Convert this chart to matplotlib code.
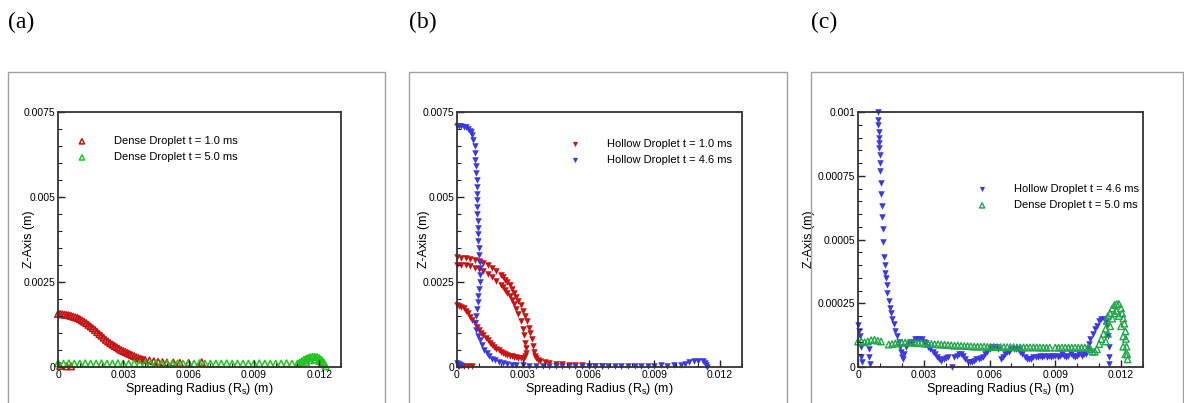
import matplotlib
matplotlib.use("Agg")
import matplotlib.pyplot as plt
from matplotlib.patches import Rectangle
from matplotlib.ticker import MultipleLocator, FuncFormatter

plt.rcParams["font.family"] = ["Liberation Sans", "DejaVu Sans"]

RED = "#c41414"
GREEN_A = "#22c422"
BLUE = "#3a3ae0"
GREEN_C = "#22a64a"

# ---- panel (a): dense droplet ----
a_red_x = [0, .0001, .0002, .0003, .0004, .0005, .0006, .0007, .0008, .0009,
           .001, .0011, .0012, .0013, .0014, .0015, .0016, .0017, .0018, .0019,
           .002, .0021, .0022, .0023, .0024, .0025, .0026, .0027, .0028, .0029,
           .003, .0031, .0032, .0033, .0034, .0035, .0036, .0037, .0038, .0039,
           .004, .0042, .0044, .0046, .0048, .005, .0053, .0056, .006, .0066,
           .0001, .0004, .0006]
a_red_y = [.00156, .00156, .00155, .00154, .00153, .00152, .0015, .00148, .00146, .00144,
           .00141, .00137, .00133, .00129, .00124, .00119, .00114, .00109, .00103, .00097,
           .00092, .00086, .0008, .00075, .0007, .00066, .00062, .00058, .00054, .0005,
           .00047, .00044, .00041, .00038, .00035, .00032, .00029, .00026, .00024, .00022,
           .00021, .00019, .00017, .00015, .00014, .00013, .00013, .00012, .00012, .00014,
           .00003, .00002, .00002]
a_green_x = [0, .00025, .0005, .00075, .001, .00125, .0015, .00175, .002, .00225,
             .0025, .00275, .003, .00325, .0035, .00375, .004, .00425, .0045, .00475,
             .005, .00525, .0055, .00575, .006, .00625, .0065, .00675, .007, .00725,
             .0075, .00775, .008, .00825, .0085, .00875, .009, .00925, .0095, .00975,
             .01, .01025, .0105, .01075, .011,
             .0111, .0112, .0113, .0114, .0115, .0116, .0117, .0118, .0119, .012,
             .0121, .0122, .01225, .0123,
             .0114, .0116, .0118, .012, .0121]
a_green_y = [.00011, .0001, .00011, .0001, .0001, .00011, .0001, .0001, .00011, .0001,
             .0001, .00011, .0001, .0001, .00011, .0001, .0001, .0001, .00011, .0001,
             .0001, .0001, .00011, .0001, .0001, .0001, .00011, .0001, .0001, .0001,
             .0001, .00011, .0001, .0001, .0001, .0001, .0001, .00011, .0001, .0001,
             .0001, .0001, .00011, .0001, .0001,
             .00013, .00017, .00021, .00024, .00027, .00029, .0003, .0003, .00029, .00026,
             .00021, .00014, .00008, .00002,
             .00015, .0002, .00022, .00018, .0001]

# ---- panel (b): hollow droplet ----
b_red_outer_x = [0, .0002, .0004, .0006, .0008, .001, .0012, .0014, .0016, .0018,
                 .002, .0021, .0022, .0023, .0024, .0025, .0026, .0027, .0028, .0029,
                 .003, .0031, .0032, .0033, .00335, .0034, .00345, .0035, .00355, .0036,
                 .0037, .0038, .004, .0042, .0045, .0048, .0051, .0054, .0057, .006,
                 .0063, .0066]
b_red_outer_y = [.00323, .00322, .00321, .00318, .00315, .00311, .00306, .003, .00292, .00282,
                 .00271, .00264, .00257, .00249, .0024, .0023, .00219, .00207, .00195, .00181,
                 .00166, .00151, .00134, .00115, .00099, .00082, .00062, .00045, .00033, .00026,
                 .00021, .00018, .00015, .00012, .00009, .00008, .00006, .00005, .00005, .00004,
                 .00003, .00003]
b_red_inner_x = [0, .0002, .0004, .0006, .0008, .001, .0012, .0014, .0016, .0018,
                 .002, .0021, .0022, .0023, .0024, .0025, .0026, .0027, .0028, .0029,
                 .003, .00305, .0031, .00313, .00315, .00312, .00305]
b_red_inner_y = [.003, .003, .00299, .00296, .00292, .00287, .00281, .00274, .00265, .00254,
                 .00242, .00235, .00227, .00218, .00208, .00197, .00185, .00171, .00155, .00135,
                 .00111, .00095, .00072, .00055, .0004, .00031, .00026]
b_red_lower_x = [0, .0001, .0002, .0003, .0004, .0005, .0006, .0007, .0008, .0009,
                 .001, .0011, .0012, .0013, .0014, .0015, .0016, .0017, .0018, .0019,
                 .002, .0021, .0022, .0023, .0024, .0025, .0026, .0027, .0028, .0029,
                 .003, .0001, .0003, .0005, .0007]
b_red_lower_y = [.00182, .0018, .00177, .00173, .00166, .00158, .00148, .00138, .00128, .00119,
                 .0011, .00101, .00093, .00086, .00078, .00071, .00065, .00059, .00054, .00049,
                 .00045, .00041, .00038, .00035, .00033, .00031, .0003, .00028, .00027, .00026,
                 .00026, .00003, .00002, .00003, .00002]
b_blue_x = [0, .0001, .0002, .0003, .0004, .0005, .0006, .00065, .0007, .00075,
            .0008, .00082, .00084, .00086, .00088, .00089, .0009, .0009, .00091, .00092,
            .00093, .00094, .00095, .00096, .00098, .001, .00102, .00104, .00105, .00105,
            .00103, .001, .00097, .00094, .0009, .00086, .00084, .00088, .00095, .00105,
            .00115, .00125, .00135, .00145, .0016, .00175, .0019, .0021, .0023, .0025,
            .0027, .003, .0033, .0036, .0039, .0042, .0045, .0048, .0051, .0054,
            .0057, .006, .0063, .0066, .0069, .0072, .0075, .0078, .0081, .0084,
            .0087, .009, .0093, .0096, .0099, .0102, .0104, .0106, .0108, .011,
            .0112, .0113, .01135, .0114,
            0, .0001, .0002, .00005]
b_blue_y = [.0071, .0071, .00709, .00707, .00705, .00701, .00695, .0069, .00682, .00668,
            .0065, .0063, .0061, .0059, .0057, .0055, .0053, .0051, .0049, .0047,
            .0045, .0043, .0041, .0039, .0037, .0035, .0033, .0031, .0029, .0027,
            .0025, .0023, .0021, .0019, .0017, .0015, .0013, .0011, .0009, .0008,
            .00065, .0005, .0004, .00032, .00025, .0002, .00016, .00012, .00009, .00007,
            .00006, .00005, .00004, .00003, .00004, .00003, .00004, .00004, .00003, .00004,
            .00003, .00004, .00004, .00003, .00004, .00004, .00003, .00004, .00004, .00003,
            .00004, .00004, .00005, .00004, .00005, .00006, .00009, .00014, .00017, .00019,
            .00018, .00012, .00005, .00001,
            .00012, .00008, .00005, .00002]

# ---- panel (c): zoomed comparison ----
c_blue_x = [.0009, .00092, .00093, .00094, .00095, .00096, .00097, .00099, .001, .00102,
            .00104, .00105, .00108, .00111, .00114, .00116, .00119, .00121, .00125, .00128,
            .00131, .00134, .0014, .00147, .00152, .00157, .00162, .0017, .00177, .00185,
            .00192, .00197, .002, .00205, .0021, .0022, .0023, .0024, .0025, .0026,
            .0027, .0028, .0029, .003, .0031, .0032, .0033, .0034, .0035, .0036,
            .0037, .0038, .0039, .004, .0041, .0043, .0044, .0045, .0046, .0047,
            .0048, .0049, .005, .0051, .0052, .0053, .0054, .0055, .0056, .0057,
            .0058, .0059, .006, .0061, .0062, .0063, .0064, .0065, .0066, .0067,
            .0068, .0069, .007, .0071, .0072, .0073, .0074, .0075, .0076, .0077,
            .0078, .0079, .008, .0081, .0082, .0083, .0084, .0085, .0086, .0087,
            .0088, .0089, .009, .0091, .0092, .0093, .0094, .0095, .0096, .0097,
            .0098, .0099, .01, .0101, .0102, .0103, .0104, .0105, .01055, .0106,
            .0107, .0108, .0109, .011, .0111, .0112, .0113, .01135, .0114, .01143,
            .01145, .01147,
            .00002, .00005, .0001, .00013, .00015, .00017, .0005, .00052, .00055]
c_blue_y = [.001, .00097, .00095, .00092, .0009, .00088, .00086, .00083, .0008, .00077,
            .00072, .00068, .00063, .00059, .00054, .00049, .00043, .0004, .00037, .00035,
            .00032, .00029, .00026, .00023, .00021, .00019, .00017, .00014, .00012, .0001,
            .00008, .00006, .00004, .00003, .00005, .00008, .00009, .0001, .0001, .00011,
            .00011, .00011, .00011, .0001, .000095, .00008, .00007, .00006, .00005, .00004,
            .00003, .000025, .00003, .000035, .000038, 0, .00004, .000045, .00005, .00005,
            .000045, .00003, .00002, .00002, .00002, .000025, .00003, .00003, .000035, .00004,
            .00005, .00006, .00007, .00008, .00008, .00008, .00007, .00003, .00004, .00005,
            .00006, .00006, .00007, .00007, .00007, .00007, .00006, .00005, .00004, .00003,
            .00003, .00003, .00004, .00004, .00004, .000045, .00004, .000045, .00004, .000045,
            .00004, .000045, .000045, .00004, .000045, .00005, .000045, .00004, .000045, .00005,
            .000045, .00004, .000045, .00005, .000045, .00005, .00005, .00007, .00009, .00011,
            .00013, .00015, .00016, .00018, .00019, .00019, .00018, .00016, .00012, .00008,
            .00004, .00001,
            .000165, .00014, .00012, .00008, .00004, .00002, .00007, .00004, .00001]
c_green_x = [0, .00015, .0003, .00045, .0006, .00075, .0009, .00105,
             .0014, .00155, .0017, .00185, .002, .00215, .0023, .00245, .0026, .00275,
             .0029, .00305, .0032, .00335, .0035, .00365, .0038, .00395, .0041, .00425,
             .0044, .00455, .0047, .00485, .005, .00515, .0053, .00545, .0056, .00575,
             .0059, .00605, .0062, .00635, .0065, .00665, .0068, .00695, .0071, .00725,
             .0074, .00755, .0077, .00785, .008, .00815, .0083, .00845, .0086, .00875,
             .009, .00915, .0093, .00945, .0096, .00975, .0099, .01005, .0102, .01035,
             .0105, .0106, .0107, .0108, .0109, .011, .0111, .0112, .0113, .01135,
             .0114, .0115, .0116, .0117, .0118, .0119, .012, .01205, .0121, .01215,
             .0122, .01222, .01225, .01228, .0123,
             .0113, .0114, .0115, .0116, .0117, .0118, .0119, .012, .0121, .0121, .0122]
c_green_y = [.0001, .0001, .000097, .0001, .000105, .000107, .000103, .0001,
             .000088, .00009, .000092, .000094, .000095, .000096, .000096, .000096, .000095, .000094,
             .000093, .000092, .00009, .00009, .000089, .000089, .000088, .000087, .000086, .000085,
             .000084, .000084, .000083, .000082, .000082, .000081, .00008, .00008, .00008, .00008,
             .000079, .000079, .000079, .000078, .000078, .000078, .000078, .000078, .000078, .000077,
             .000077, .000077, .000077, .000077, .000077, .000077, .000076, .000076, .000076, .000076,
             .000076, .000076, .000076, .000076, .000076, .000076, .000076, .000076, .000076, .000076,
             .000076, .00007, .00006, .00006, .00007, .00009, .00011, .00013, .00015, .00018,
             .0002, .00021, .00023, .000243, .000247, .000247, .00023, .00021, .00019, .00017,
             .00014, .00011, .00008, .00005, .00003,
             .0001, .00013, .00016, .00019, .00021, .00022, .0002, .00016, .00012, .00008, .00005]

W, H = 1184, 403


def style_axes(ax, ymax, ymajor, yminor, ylabel_x):
    ax.set_xlim(0, 0.013)
    ax.set_ylim(0, ymax)
    ax.xaxis.set_major_locator(MultipleLocator(0.003))
    ax.xaxis.set_minor_locator(MultipleLocator(0.001))
    ax.yaxis.set_major_locator(MultipleLocator(ymajor))
    ax.yaxis.set_minor_locator(MultipleLocator(yminor))
    fmt = FuncFormatter(lambda v, p: "0" if abs(v) < 1e-12 else f"{v:g}")
    ax.xaxis.set_major_formatter(fmt)
    ax.yaxis.set_major_formatter(fmt)
    ax.tick_params(which="both", direction="in", labelsize=7.5, pad=2, color="#222")
    ax.tick_params(which="major", length=5, width=1)
    ax.tick_params(which="minor", length=3, width=0.8)
    for s in ax.spines.values():
        s.set_linewidth(1.3)
        s.set_color("#333333")
    ax.set_xlabel("Spreading Radius (R$_\\mathregular{s}$) (m)", fontsize=9, labelpad=1)
    ax.set_ylabel("Z-Axis (m)", fontsize=9)
    ax.yaxis.set_label_coords(ylabel_x, 0.5)


fig = plt.figure(figsize=(W / 100, H / 100), dpi=100)

# outer gray frames and panel letters
for left, right, tag in [(8, 385, "(a)"), (409, 787, "(b)"), (811, 1183, "(c)")]:
    fig.patches.append(Rectangle((left / W, -0.1), (right - left) / W, 0.1 + (H - 72) / H,
                                 transform=fig.transFigure, fill=False,
                                 edgecolor="#a0a0a0", linewidth=1))
    fig.text(left / W, (H - 22) / H, tag, fontsize=17, va="center", ha="left",
             family="Liberation Serif")

bottom = (H - 367) / H
height = 255 / H
ax_a = fig.add_axes([58 / W, bottom, 283 / W, height])
ax_b = fig.add_axes([457 / W, bottom, 285 / W, height])
ax_c = fig.add_axes([858 / W, bottom, 285 / W, height])

ms = 22
leg_kw = dict(frameon=False, fontsize=8, handlelength=1, handletextpad=2.4,
              labelspacing=0.55, borderpad=0, borderaxespad=0, loc="upper left",
              markerscale=0.8)

# (a)
ax_a.scatter(a_red_x, a_red_y, s=ms, marker="^", facecolors="none", edgecolors=RED,
             linewidths=1.1, label="Dense Droplet t = 1.0 ms", clip_on=False)
ax_a.scatter(a_green_x, a_green_y, s=ms, marker="^", facecolors="none", edgecolors=GREEN_A,
             linewidths=1.1, label="Dense Droplet t = 5.0 ms", clip_on=False)
style_axes(ax_a, 0.0075, 0.0025, 0.0005, -0.082)
ax_a.legend(bbox_to_anchor=(0.065, 0.905), **leg_kw)

# (b)
ax_b.scatter(b_red_outer_x, b_red_outer_y, s=ms, marker="v", color=RED, linewidths=0,
             label="Hollow Droplet t = 1.0 ms", clip_on=False)
ax_b.scatter(b_red_inner_x, b_red_inner_y, s=ms, marker="v", color=RED, linewidths=0,
             clip_on=False)
ax_b.scatter(b_red_lower_x, b_red_lower_y, s=ms, marker="v", color=RED, linewidths=0,
             clip_on=False)
ax_b.scatter(b_blue_x, b_blue_y, s=ms, marker="v", color=BLUE, linewidths=0,
             label="Hollow Droplet t = 4.6 ms", clip_on=False)
style_axes(ax_b, 0.0075, 0.0025, 0.0005, -0.095)
ax_b.legend(bbox_to_anchor=(0.395, 0.893), **leg_kw)

# (c)
ax_c.scatter(c_blue_x, c_blue_y, s=ms, marker="v", color=BLUE, linewidths=0,
             label="Hollow Droplet t = 4.6 ms", clip_on=False)
ax_c.scatter(c_green_x, c_green_y, s=ms, marker="^", facecolors="none", edgecolors=GREEN_C,
             linewidths=1.0, label="Dense Droplet t = 5.0 ms", clip_on=False)
style_axes(ax_c, 0.001, 0.00025, 0.00005, -0.15)
ax_c.legend(bbox_to_anchor=(0.416, 0.717), **leg_kw)

fig.savefig("out.png", dpi=100)
